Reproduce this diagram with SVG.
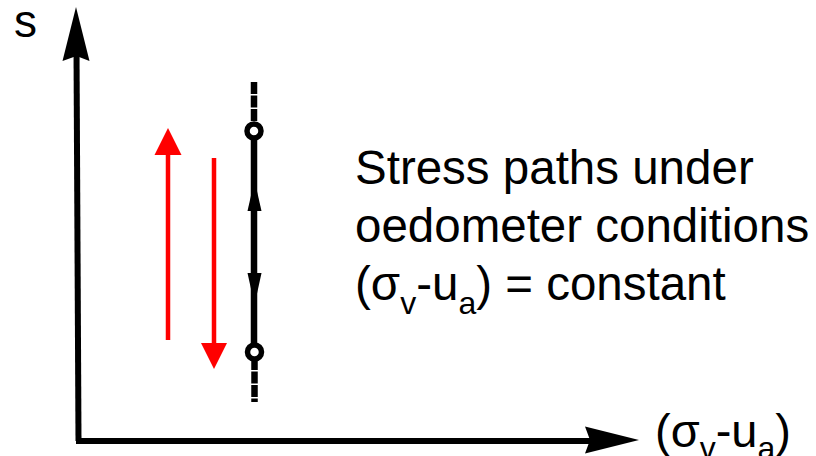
<svg xmlns="http://www.w3.org/2000/svg" width="816" height="456" viewBox="0 0 816 456">
<style>
.t{font-family:"Liberation Sans",Arial,sans-serif;fill:#000}
.axis{stroke:#000;stroke-width:6;fill:none}
.path{stroke:#000;stroke-width:6.5;fill:none}
.red{stroke:#ff0000;stroke-width:4.5;fill:none}
</style>
<rect width="816" height="456" fill="#fff"/>
<g id="axes">
<line class="axis" x1="76.5" y1="50" x2="78.5" y2="441"/>
<line class="axis" x1="76" y1="441" x2="592" y2="441"/>
<polygon points="76,7 89.5,61 76.5,56 62.5,61" fill="#000"/>
<polygon points="639,440 585,453.5 590,440 585,426.5" fill="#000"/>
</g>
<g id="label-s"><text class="t" x="14" y="37" font-size="46">s</text></g>
<g id="label-x"><text class="t" x="655" y="447" font-size="47">(σ<tspan font-size="32" dy="12">v</tspan><tspan dy="-12">-u</tspan><tspan font-size="32" dy="12">a</tspan><tspan dy="-12">)</tspan></text></g>
<g id="caption">
<text class="t" x="355" y="184" font-size="47.5">Stress paths under</text>
<text class="t" x="355" y="242" font-size="47.5">oedometer conditions</text>
<text class="t" x="355" y="300" font-size="47.5">(σ<tspan font-size="32" dy="14">v</tspan><tspan dy="-14">-u</tspan><tspan font-size="32" dy="14">a</tspan><tspan dy="-14">) = constant</tspan></text>
</g>
<g id="connectors">
<g id="red-up">
<line class="red" x1="168" y1="340" x2="168" y2="150"/>
<polygon points="168,128 181.5,155 154.5,155" fill="#ff0000"/>
</g>
<g id="red-down">
<line class="red" x1="214" y1="158" x2="214" y2="347"/>
<polygon points="214,369 227,343 201,343" fill="#ff0000"/>
</g>
<g id="oedometer-path">
<line class="path" x1="254" y1="82" x2="254" y2="125" stroke-dasharray="12 1.5"/>
<line class="path" x1="254" y1="137" x2="254" y2="346"/>
<line class="path" x1="254.5" y1="358" x2="254.5" y2="402" stroke-dasharray="12 1.5"/>
<polygon points="254.5,180 261.5,211 247.5,211" fill="#000"/>
<polygon points="254.5,305 261.5,273 247.5,273" fill="#000"/>
</g>
</g>
<g id="node-top"><circle cx="254" cy="131" r="7" fill="#fff" stroke="#000" stroke-width="5.5"/></g>
<g id="node-bottom"><circle cx="254.5" cy="352" r="7" fill="#fff" stroke="#000" stroke-width="5.5"/></g>
</svg>
